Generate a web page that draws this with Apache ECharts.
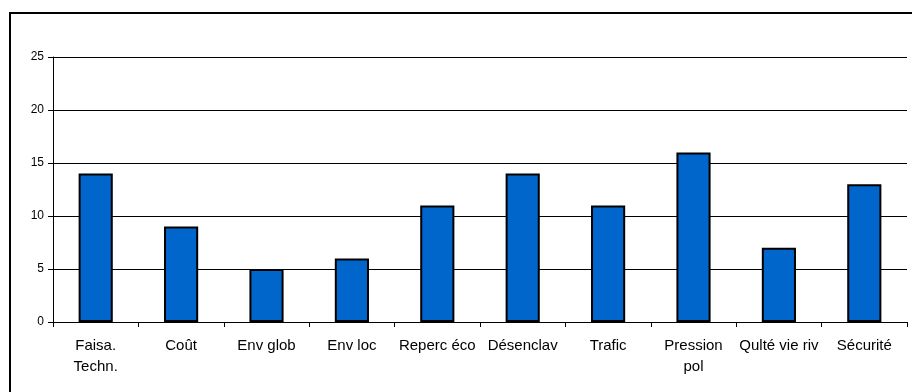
<!DOCTYPE html>
<html><head><meta charset="utf-8">
<script src="https://cdn.jsdelivr.net/npm/echarts@6/dist/echarts.min.js"></script>
<style>html,body{margin:0;padding:0;background:#fff}#c{width:912px;height:392px}</style>
</head><body><div id="c"></div>
<script>
const categories = ["Faisa.\nTechn.", "Coût", "Env glob", "Env loc", "Reperc éco", "Désenclav", "Trafic", "Pression\npol", "Qulté vie riv", "Sécurité"];
const values = [14, 9, 5, 6, 11, 14, 11, 16, 7, 13];
const yTicks = [0, 5, 10, 15, 20, 25];

const chart = echarts.init(document.getElementById('c'), null, {renderer: 'canvas'});
const font = 'Arial, "Liberation Sans", sans-serif';
chart.setOption({
  animation: false,
  backgroundColor: '#fff',
  graphic: [{
    type: 'rect', silent: true,
    shape: {x: 10, y: 13, width: 1000, height: 1000},
    style: {fill: 'none', stroke: '#000', lineWidth: 2}
  }],
  grid: {left: 53, right: 5, top: 57, bottom: 70},
  xAxis: {
    type: 'category', data: categories, boundaryGap: true,
    axisLine: {lineStyle: {color: '#000', width: 1}},
    axisTick: {show: true, length: 5, alignWithLabel: false, lineStyle: {color: '#000'}},
    axisLabel: {interval: 0, color: '#000', fontFamily: font, fontSize: 15, lineHeight: 21, margin: 13}
  },
  yAxis: {
    type: 'value', min: yTicks[0], max: yTicks[yTicks.length - 1], interval: 5,
    axisLine: {show: true, lineStyle: {color: '#000', width: 1}},
    axisTick: {show: true, length: 5, lineStyle: {color: '#000'}},
    splitLine: {show: true, lineStyle: {color: '#000', width: 1}},
    axisLabel: {color: '#000', fontFamily: font, fontSize: 12, margin: 9}
  },
  series: [{
    type: 'bar', data: values, barWidth: '40%',
    itemStyle: {color: '#0066CC', borderColor: '#000', borderWidth: 2}
  }]
});
</script></body></html>
